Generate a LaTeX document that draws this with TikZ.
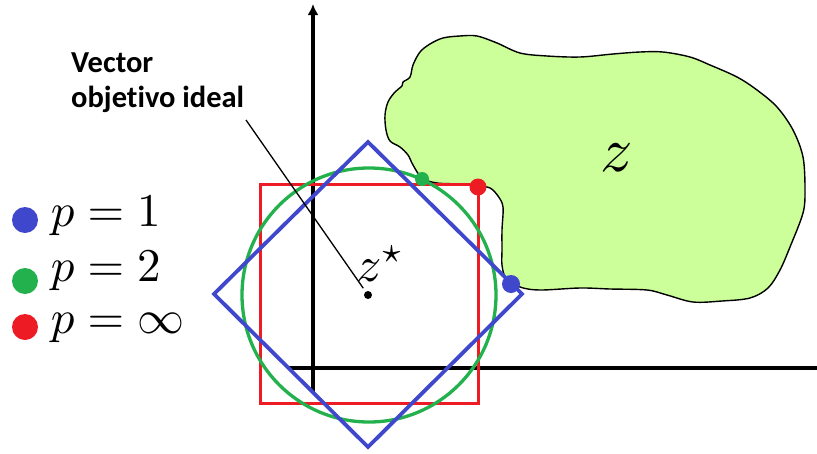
\documentclass[tikz,border=0pt]{standalone}
\usepackage{fontspec}
\newfontfamily\calib{Carlito}[Ligatures=NoCommon]
\usetikzlibrary{arrows.meta}
\definecolor{pblue}{RGB}{63,72,204}
\definecolor{pgreen}{RGB}{34,177,76}
\definecolor{pred}{RGB}{237,28,36}
\definecolor{blobfill}{RGB}{204,255,153}
\begin{document}
\begin{tikzpicture}[x=1pt,y=-1pt,
  axis/.style={line width=3.4pt,black},
  legdot/.style={circle,inner sep=0pt,minimum size=26pt},
  hitdot/.style={circle,inner sep=0pt},
  legtext/.style={anchor=base west,inner sep=0pt,font=\fontsize{10}{12}\selectfont,scale=4.7},
  shapeline/.style={line width=3.3pt}]
\useasboundingbox (0,0) rectangle (817,453);
% feasible region
\filldraw[fill=blobfill,draw=black,line width=1.4pt]
  plot[smooth cycle,tension=0.55] coordinates {
  (422,178) (413,165) (408,155) (400,147) (390,141) (386,130) (385,115)
  (388,102) (395,92) (402,86) (403,82) (410,77) (413,65) (420,52) (430,44)
  (443,38) (460,36) (477,36) (497,43) (520,53) (547,56) (580,57) (613,54)
  (640,52) (663,52) (690,57) (710,65) (737,77) (757,90) (777,107) (793,130)
  (803,157) (805,190) (803,213) (790,247) (780,270) (768,288) (750,298)
  (722,301) (693,302) (667,295) (647,290) (610,289) (580,288) (540,290)
  (520,287) (506,278) (502,265) (502,250) (502,230) (503,207) (498,196)
  (490,188) (478,186) (460,184) (437,183)};
\node[font=\fontsize{10}{12}\selectfont,scale=6.4] (zlab) at (617,158) {$z$};
% axes
\coordinate (yb) at (313,393);
\coordinate (yt) at (313,4);
\coordinate (xl) at (288,368);
\coordinate (xr) at (817,368);
\draw[axis,-{Latex[length=11pt,width=11pt]}] (yb) -- (yt);
\draw[axis] (xl) -- (xr);
% norm balls
\coordinate (c) at (369,295);
\draw[pred,shapeline,line width=3pt] (260,184) rectangle (478,403);
\draw[pgreen,shapeline] (c) circle (127);
\draw[pblue,shapeline,line width=3.8pt] (368,142) -- (522,294) -- (368,447) -- (214,294) -- cycle;
% contact points
\node[hitdot,fill=pgreen,minimum size=14pt] (gdot) at (422,179) {};
\node[hitdot,fill=pred,minimum size=17pt] (rdot) at (478,187) {};
\node[hitdot,fill=pblue,minimum size=18pt] (bdot) at (511,284) {};
% ideal point
\node[circle,fill=black,inner sep=0pt,minimum size=8pt] (zs) at (368,295) {};
\node[anchor=base west,inner sep=0pt,font=\fontsize{10}{12}\selectfont,scale=5] (zslab) at (355,281) {$z^\star$};
% annotation
\node[anchor=north west,inner sep=0pt,align=left,font=\calib\bfseries\fontsize{30.5}{35}\selectfont] (vec) at (71,53) {Vector\\objetivo ideal};
\coordinate (lead) at (246,120);
\draw[line width=1.3pt,shorten >=4pt] (lead) -- (zs);
% legend
\node[legdot,fill=pblue] (l1) at (25,220) {};
\node[legdot,fill=pgreen] (l2) at (25,281) {};
\node[legdot,fill=pred] (l3) at (25,327) {};
\node[legtext] (t1) at (50,226.5) {$p=1$};
\node[legtext] (t2) at (50,281.5) {$p=2$};
\node[legtext] (t3) at (50,333.5) {$p=\infty$};
\end{tikzpicture}
\end{document}
